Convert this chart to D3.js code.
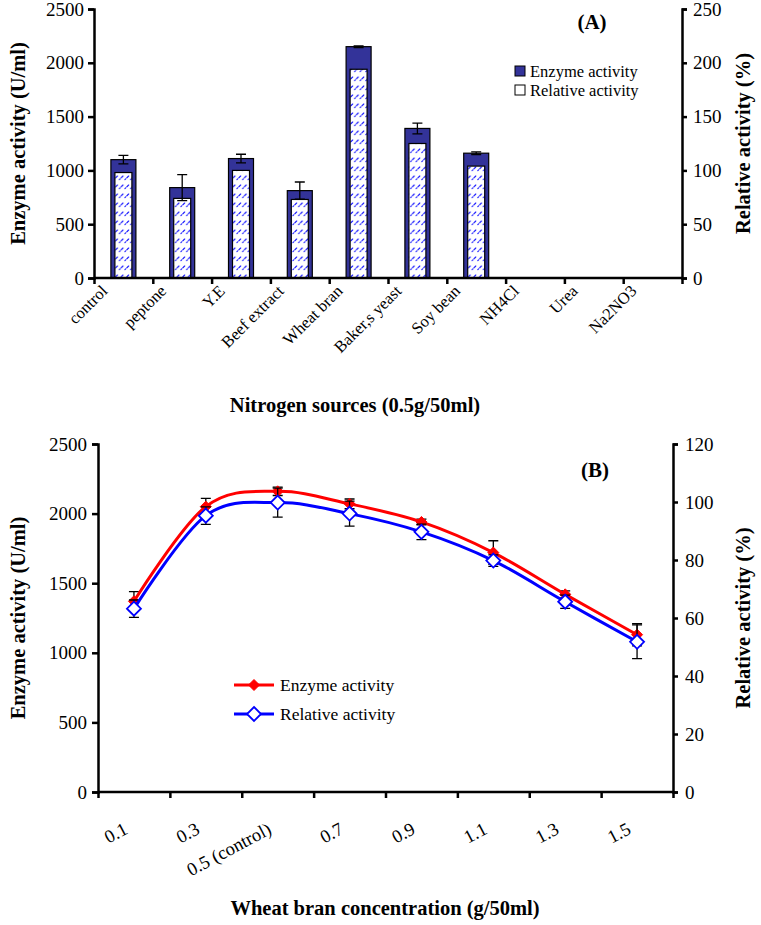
<!DOCTYPE html>
<html>
<head>
<meta charset="utf-8">
<script src="https://cdn.jsdelivr.net/npm/d3@7"></script>
<style>
  html, body { margin: 0; padding: 0; background: #fff; }
  svg { display: block; font-family: "Liberation Serif", "Times New Roman", serif; }
</style>
</head>
<body>
<svg id="chart" width="761" height="925"></svg>
<script>
// ---------- Data: panel A ----------
const sources = ["control", "peptone", "Y.E", "Beef extract", "Wheat bran", "Baker,s yeast", "Soy bean", "NH4Cl", "Urea", "Na2NO3"];
const enzymeA = [1100, 840, 1110, 812, 2150, 1390, 1160, 0, 0, 0];
const enzymeAErr = [40, 120, 40, 80, 8, 50, 12, 0, 0, 0];
const relativeA = [98, 74, 100, 73, 194, 125, 104, 0, 0, 0];
const leftTicksA = [0, 500, 1000, 1500, 2000, 2500];
const rightTicksA = [0, 50, 100, 150, 200, 250];

// ---------- Data: panel B ----------
const concentrations = ["0.1", "0.3", "0.5 (control)", "0.7", "0.9", "1.1", "1.3", "1.5"];
const enzymeB = [1370, 2050, 2160, 2070, 1940, 1720, 1420, 1130];
const enzymeBErr = [70, 60, 30, 35, 20, 85, 25, 80];
const relativeB = [63.2, 95.3, 99.8, 96.0, 89.7, 79.8, 65.6, 51.8];
const relativeBErr = [3, 3, 5, 4.3, 2.7, 2, 2.3, 5.8];
const leftTicksB = [0, 500, 1000, 1500, 2000, 2500];
const rightTicksB = [0, 20, 40, 60, 80, 100, 120];

const svg = d3.select("#chart");
const navy = "#333399";
const fmt = d3.format("d");

// pattern for relative bars
const defs = svg.append("defs");
const pat = defs.append("pattern").attr("id", "dots").attr("patternUnits", "userSpaceOnUse")
  .attr("width", 5.6).attr("height", 9).attr("x", 1).attr("y", 3);
pat.append("rect").attr("width", 5.6).attr("height", 9).attr("fill", "#fff");
pat.append("path").attr("d", "M0.8,5.6 L1.5,4.9 M2.6,3.8 L4.4,2").attr("stroke", "#1010ff").attr("stroke-width", 1.1)
  .attr("stroke-linecap", "round");

// ================= Panel A =================
const A = { left: 94, right: 682, top: 9, bottom: 278 };
const xA = d3.scaleBand().domain(sources).range([A.left, A.right]).padding(0);
const yA = d3.scaleLinear().domain([0, 2500]).range([A.bottom, A.top]);
const yA2 = d3.scaleLinear().domain([0, 250]).range([A.bottom, A.top]);

const gA = svg.append("g");
// enzyme bars
gA.selectAll("rect.enz").data(sources).join("rect")
  .attr("x", d => xA(d) + xA.bandwidth() / 2 - 12.5)
  .attr("width", 25)
  .attr("y", (d, i) => yA(enzymeA[i]))
  .attr("height", (d, i) => A.bottom - yA(enzymeA[i]))
  .attr("fill", navy).attr("stroke", "#000").attr("stroke-width", 1.2)
  .style("display", (d, i) => enzymeA[i] > 0 ? null : "none");
// relative bars
gA.selectAll("rect.rel").data(sources).join("rect")
  .attr("x", d => xA(d) + xA.bandwidth() / 2 - 8.5)
  .attr("width", 17)
  .attr("y", (d, i) => yA2(relativeA[i]))
  .attr("height", (d, i) => A.bottom - yA2(relativeA[i]))
  .attr("fill", "url(#dots)").attr("stroke", "#000").attr("stroke-width", 1.2)
  .style("display", (d, i) => relativeA[i] > 0 ? null : "none");
// error bars
sources.forEach((s, i) => {
  if (enzymeA[i] <= 0) return;
  const cx = xA(s) + xA.bandwidth() / 2;
  const y1 = yA(enzymeA[i] + enzymeAErr[i]), y2 = yA(enzymeA[i] - enzymeAErr[i]);
  const p = d3.path();
  p.moveTo(cx, y1); p.lineTo(cx, y2);
  p.moveTo(cx - 5, y1); p.lineTo(cx + 5, y1);
  p.moveTo(cx - 5, y2); p.lineTo(cx + 5, y2);
  gA.append("path").attr("d", p.toString()).attr("stroke", "#000").attr("stroke-width", 1.3).attr("fill", "none");
});

// axes A
const axLA = gA.append("g").attr("transform", `translate(${A.left},0)`)
  .call(d3.axisLeft(yA).tickValues(leftTicksA).tickFormat(fmt).tickSize(6).tickPadding(4));
const axRA = gA.append("g").attr("transform", `translate(${A.right},0)`)
  .call(d3.axisRight(yA2).tickValues(rightTicksA).tickFormat(fmt).tickSize(5).tickPadding(6));
const bandEdgesA = sources.map(s => xA(s)).concat([A.right]);
const axBA = gA.append("g").attr("transform", `translate(0,${A.bottom})`)
  .call(d3.axisBottom(d3.scaleLinear().domain([A.left, A.right]).range([A.left, A.right]))
    .tickValues(bandEdgesA).tickSize(6).tickFormat(""));
[axLA, axRA, axBA].forEach(ax => {
  ax.select(".domain").attr("stroke-width", 2.5);
  ax.selectAll(".tick line").attr("stroke-width", 2.5);
  ax.selectAll("text").attr("font-size", 19).attr("font-family", "Liberation Serif").attr("fill", "#000");
});
axBA.select(".domain").attr("d", `M${A.left},0H${A.right}`);

// category labels
gA.selectAll("text.cat").data(sources).join("text")
  .attr("class", "cat")
  .attr("transform", d => `translate(${xA(d) + xA.bandwidth() / 2 - 15},${A.bottom + 14}) rotate(-45)`)
  .attr("text-anchor", "end").attr("font-size", 16.5).text(d => d);

// titles A
gA.append("text").attr("x", 355).attr("y", 412).attr("text-anchor", "middle")
  .attr("font-size", 20.5).attr("font-weight", "bold").text("Nitrogen sources (0.5g/50ml)");
gA.append("text").attr("transform", `translate(25,${(A.top + A.bottom) / 2}) rotate(-90)`)
  .attr("text-anchor", "middle").attr("font-size", 20.5).attr("font-weight", "bold").text("Enzyme activity (U/ml)");
gA.append("text").attr("transform", `translate(750,${(A.top + A.bottom) / 2}) rotate(-90)`)
  .attr("text-anchor", "middle").attr("font-size", 20.5).attr("font-weight", "bold").text("Relative activity (%)");
gA.append("text").attr("x", 592).attr("y", 29).attr("text-anchor", "middle")
  .attr("font-size", 21).attr("font-weight", "bold").text("(A)");

// legend A
const legA = gA.append("g").attr("transform", "translate(515,0)");
legA.append("rect").attr("x", 0).attr("y", 66).attr("width", 10).attr("height", 10)
  .attr("fill", navy).attr("stroke", "#000").attr("stroke-width", 1);
legA.append("text").attr("x", 15).attr("y", 77).attr("font-size", 16.5).text("Enzyme activity");
legA.append("rect").attr("x", 0).attr("y", 85).attr("width", 10).attr("height", 10)
  .attr("fill", "#fff").attr("stroke", "#000").attr("stroke-width", 1);
legA.append("text").attr("x", 15).attr("y", 96).attr("font-size", 16.5).text("Relative activity");

// ================= Panel B =================
const B = { left: 98, right: 673, top: 444, bottom: 792 };
const xB = d3.scaleBand().domain(concentrations).range([B.left, B.right]).padding(0);
const yB = d3.scaleLinear().domain([0, 2500]).range([B.bottom, B.top]);
const yB2 = d3.scaleLinear().domain([0, 120]).range([B.bottom, B.top]);
const cxB = d => xB(d) + xB.bandwidth() / 2;

const gB = svg.append("g");
const curve = d3.curveCardinal.tension(0);

function errBars(vals, errs, scale) {
  concentrations.forEach((c, i) => {
    const cx = cxB(c);
    const y1 = scale(vals[i] + errs[i]), y2 = scale(vals[i] - errs[i]);
    const p = d3.path();
    p.moveTo(cx, y1); p.lineTo(cx, y2);
    p.moveTo(cx - 5, y1); p.lineTo(cx + 5, y1);
    p.moveTo(cx - 5, y2); p.lineTo(cx + 5, y2);
    gB.append("path").attr("d", p.toString()).attr("stroke", "#000").attr("stroke-width", 1.3).attr("fill", "none");
  });
}

// red (enzyme)
errBars(enzymeB, enzymeBErr, yB);
gB.append("path").datum(concentrations)
  .attr("d", d3.line().x(d => cxB(d)).y((d, i) => yB(enzymeB[i])).curve(curve))
  .attr("fill", "none").attr("stroke", "#ff0000").attr("stroke-width", 3);
const diamond = r => `M0,${-r}L${r},0L0,${r}L${-r},0Z`;
gB.selectAll("path.redpt").data(concentrations).join("path")
  .attr("transform", (d, i) => `translate(${cxB(d)},${yB(enzymeB[i])})`)
  .attr("d", diamond(5.5)).attr("fill", "#ff0000").attr("stroke", "#ff0000").attr("stroke-width", 1);

// blue (relative)
errBars(relativeB, relativeBErr, yB2);
gB.append("path").datum(concentrations)
  .attr("d", d3.line().x(d => cxB(d)).y((d, i) => yB2(relativeB[i])).curve(curve))
  .attr("fill", "none").attr("stroke", "#0000ff").attr("stroke-width", 3);
gB.selectAll("path.bluept").data(concentrations).join("path")
  .attr("transform", (d, i) => `translate(${cxB(d)},${yB2(relativeB[i])})`)
  .attr("d", diamond(7)).attr("fill", "#fff").attr("stroke", "#0000ff").attr("stroke-width", 1.8);

// axes B
const axLB = gB.append("g").attr("transform", `translate(${B.left},0)`)
  .call(d3.axisLeft(yB).tickValues(leftTicksB).tickFormat(fmt).tickSize(6).tickPadding(5));
const axRB = gB.append("g").attr("transform", `translate(${B.right},0)`)
  .call(d3.axisRight(yB2).tickValues(rightTicksB).tickFormat(fmt).tickSize(5).tickPadding(7));
const bandEdgesB = concentrations.map(c => xB(c)).concat([B.right]);
const axBB = gB.append("g").attr("transform", `translate(0,${B.bottom})`)
  .call(d3.axisBottom(d3.scaleLinear().domain([B.left, B.right]).range([B.left, B.right]))
    .tickValues(bandEdgesB).tickSize(6).tickFormat(""));
[axLB, axRB, axBB].forEach(ax => {
  ax.select(".domain").attr("stroke-width", 2.5);
  ax.selectAll(".tick line").attr("stroke-width", 2.5);
  ax.selectAll("text").attr("font-size", 19).attr("font-family", "Liberation Serif").attr("fill", "#000");
});
axBB.select(".domain").attr("d", `M${B.left},0H${B.right}`);

gB.selectAll("text.conc").data(concentrations).join("text")
  .attr("class", "conc")
  .attr("transform", d => `translate(${cxB(d) - 5},${B.bottom + 41}) rotate(-28)`)
  .attr("text-anchor", "end").attr("font-size", 18.5).text(d => d);

gB.append("text").attr("x", 385).attr("y", 915).attr("text-anchor", "middle")
  .attr("font-size", 20.5).attr("font-weight", "bold").text("Wheat bran concentration (g/50ml)");
gB.append("text").attr("transform", `translate(25,${(B.top + B.bottom) / 2}) rotate(-90)`)
  .attr("text-anchor", "middle").attr("font-size", 20.5).attr("font-weight", "bold").text("Enzyme activity (U/ml)");
gB.append("text").attr("transform", `translate(750,${(B.top + B.bottom) / 2}) rotate(-90)`)
  .attr("text-anchor", "middle").attr("font-size", 20.5).attr("font-weight", "bold").text("Relative activity (%)");
gB.append("text").attr("x", 595).attr("y", 477).attr("text-anchor", "middle")
  .attr("font-size", 21).attr("font-weight", "bold").text("(B)");

// legend B
const legB = gB.append("g");
legB.append("line").attr("x1", 234).attr("x2", 274).attr("y1", 685).attr("y2", 685).attr("stroke", "#ff0000").attr("stroke-width", 3);
legB.append("path").attr("transform", "translate(254,685)").attr("d", diamond(5.5)).attr("fill", "#ff0000").attr("stroke", "#ff0000");
legB.append("text").attr("x", 280).attr("y", 691).attr("font-size", 17.5).text("Enzyme activity");
legB.append("line").attr("x1", 234).attr("x2", 274).attr("y1", 714).attr("y2", 714).attr("stroke", "#0000ff").attr("stroke-width", 3);
legB.append("path").attr("transform", "translate(254,714)").attr("d", diamond(7)).attr("fill", "#fff").attr("stroke", "#0000ff").attr("stroke-width", 1.8);
legB.append("text").attr("x", 280).attr("y", 720).attr("font-size", 17.5).text("Relative activity");
</script>
</body>
</html>
